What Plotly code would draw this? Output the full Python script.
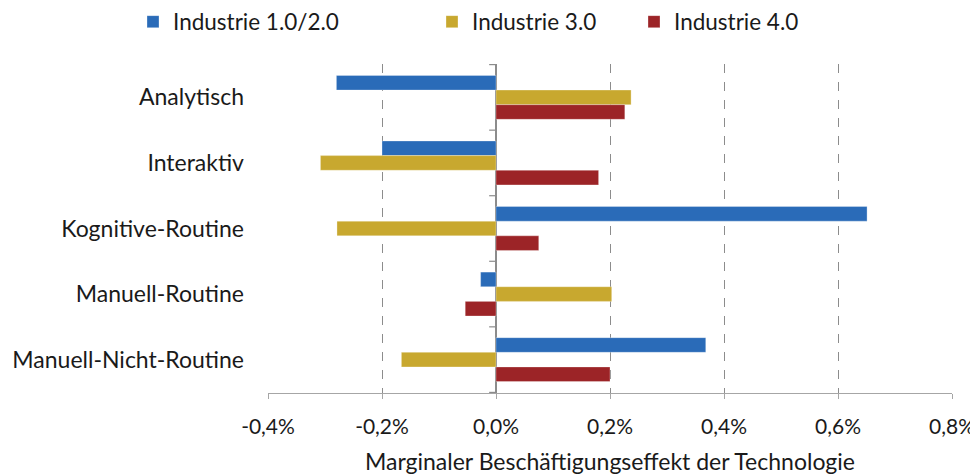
import plotly.graph_objects as go

categories = ["Analytisch", "Interaktiv", "Kognitive-Routine", "Manuell-Routine", "Manuell-Nicht-Routine"]
series_names = ["Industrie 1.0/2.0", "Industrie 3.0", "Industrie 4.0"]
industrie_12 = [-0.280, -0.200, 0.651, -0.027, 0.368]
industrie_3 = [0.237, -0.308, -0.279, 0.203, -0.166]
industrie_4 = [0.226, 0.180, 0.075, -0.054, 0.200]
x_ticks = [-0.4, -0.2, 0.0, 0.2, 0.4, 0.6, 0.8]
x_tick_labels = ["-0,4%", "-0,2%", "0,0%", "0,2%", "0,4%", "0,6%", "0,8%"]
x_title = "Marginaler Beschäftigungseffekt der Technologie"

colors = ["#2A6BB8", "#C8A82F", "#9C2427"]
values = [industrie_12, industrie_3, industrie_4]
legend_ids = ["legend", "legend2", "legend3"]
legend_x = [147, 446, 648]

FONT = "Lato"
TXT = "#1a1a1a"
fig = go.Figure()
for name, vals, col, lg in zip(series_names, values, colors, legend_ids):
    fig.add_trace(go.Bar(
        y=categories, x=vals, name=name, orientation="h",
        marker=dict(color=col, line=dict(color="rgba(255,255,255,0.5)", width=0.6)),
        legend=lg,
    ))

# page has an 8px body margin; figure sized to fit the 978x476 window
OFF = 8
W, H = 970, 468
ml, mr, mt, mb = 260, 26, 56, 83

# tick marks along the zero line at category boundaries
shapes = []
for i in range(len(categories) + 1):
    shapes.append(dict(type="line", xref="x", yref="y",
                       x0=-0.012, x1=0, y0=i - 0.5, y1=i - 0.5,
                       line=dict(color="#8c8c8c", width=1.2)))

layouts = {}
for lg, lx in zip(legend_ids, legend_x):
    layouts[lg] = dict(orientation="h", yanchor="middle", xanchor="left",
                       x=(lx - OFF - 14) / W, y=1 - (22 - OFF) / H,
                       xref="container", yref="container",
                       font=dict(family=FONT, size=22.5, color=TXT),
                       bgcolor="rgba(0,0,0,0)", itemwidth=30)

fig.update_layout(
    width=W, height=H,
    margin=dict(l=ml, r=mr, t=mt, b=mb, autoexpand=False),
    paper_bgcolor="white", plot_bgcolor="white",
    barmode="group", bargap=0.33, bargroupgap=0,
    font=dict(family=FONT, size=18, color=TXT),
    showlegend=True,
    shapes=shapes,
    xaxis=dict(
        range=[-0.4, 0.8], tickvals=x_ticks, ticktext=x_tick_labels,
        showgrid=True, gridcolor="#8c8c8c", griddash="dash", gridwidth=1,
        zeroline=True, zerolinecolor="#8c8c8c", zerolinewidth=1.5,
        showline=True, linecolor="#a6a6a6", linewidth=1.2,
        ticks="outside", ticklen=5, tickcolor="#a6a6a6",
        ticklabelstandoff=10,
        tickfont=dict(family=FONT, size=21, color=TXT),
        title=dict(text=x_title, font=dict(family=FONT, size=23, color=TXT), standoff=16),
        automargin=False, fixedrange=True,
    ),
    yaxis=dict(
        autorange="reversed", showgrid=False, zeroline=False, showline=False,
        ticks="", ticklabelstandoff=23, automargin=False,
        tickfont=dict(family=FONT, size=23, color=TXT),
    ),
    **layouts,
)

fig.write_html("out.html")
